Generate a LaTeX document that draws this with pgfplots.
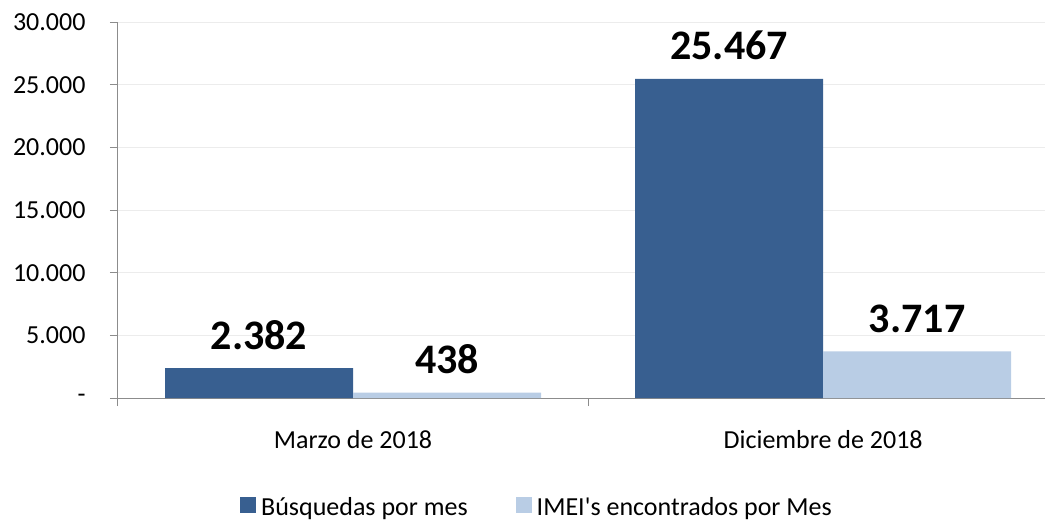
\documentclass[border=0pt]{standalone}
\usepackage{pgfplots}
\pgfplotsset{compat=1.18}
\usepackage{fontspec}
\setmainfont{Carlito}
\newfontfamily\plainf{Carlito}
\definecolor{darkb}{HTML}{385F90}
\definecolor{lightb}{HTML}{B9CDE5}
\definecolor{gridc}{HTML}{ECECEC}
\definecolor{axc}{HTML}{8C8C8C}
\begin{document}
\begin{tikzpicture}
\useasboundingbox (-118pt,-122pt) rectangle (927pt,398pt);
\begin{axis}[
  scale only axis, width=927pt, height=376pt,
  anchor=south west, at={(0pt,0pt)},
  xmin=-0.5, xmax=1.472, ymin=0, ymax=30000,
  axis x line*=bottom, axis y line*=left,
  axis line style={axc, line width=1pt},
  ybar, bar width=0.4,
  scaled y ticks=false,
  ytick={0,5000,10000,15000,20000,25000,30000},
  yticklabels={-,5.000,10.000,15.000,20.000,25.000,30.000},
  ymajorgrids, grid style={gridc, line width=1pt},
  ytick style={axc, line width=1pt},
  major tick length=8pt,
  tick align=outside,
  xtick={-0.5,0.5,1.5}, xticklabels={},
  xtick style={axc, line width=1pt},
  extra x ticks={0,1},
  extra x tick labels={Marzo de 2018, Diciembre de 2018},
  extra x tick style={major tick length=0pt, grid=none, tick style={draw=none},
    xticklabel style={yshift=-29pt}},
  ticklabel style={font=\fontsize{26}{30}\selectfont, text=black},
  yticklabel style={xshift=-21pt},
  legend style={at={(0.452,-0.29)}, anchor=center, draw=none, fill=none,
    legend columns=2, font=\fontsize{26}{30}\selectfont,
    /tikz/every even column/.append style={column sep=46pt}},
  legend image code/.code={\fill[#1] (0pt,-6pt) rectangle (16pt,10pt); \path (19pt,0pt);},
  nodes near coords, point meta=explicit symbolic,
  every node near coord/.append style={font=\fontsize{42}{46}\bfseries, text=black, yshift=15pt},
]
\addplot[fill=darkb, draw=none, bar shift=-0.2] table[meta=l] {
x y l
0 2382 2.382
1 25467 25.467
};
\addplot[fill=lightb, draw=none, bar shift=0.2] table[meta=l] {
x y l
0 438 438
1 3717 3.717
};
\legend{Búsquedas por mes, {\plainf IMEI's encontrados por Mes}}
\end{axis}
\end{tikzpicture}
\end{document}
